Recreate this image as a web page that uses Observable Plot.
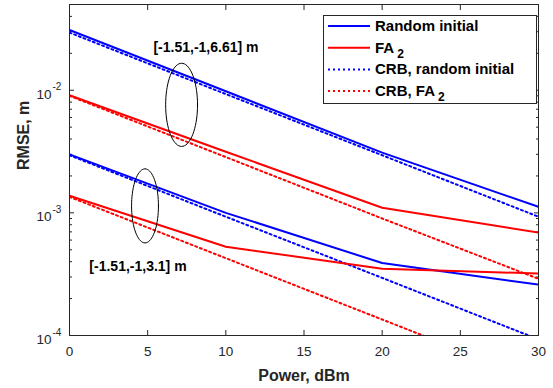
<!DOCTYPE html>
<html>
<head>
<meta charset="utf-8">
<script src="https://cdn.jsdelivr.net/npm/d3@7"></script>
<script src="https://cdn.jsdelivr.net/npm/@observablehq/plot@0.6"></script>
<style>
  html, body { margin: 0; padding: 0; background: white; }
  #wrap { position: relative; width: 553px; height: 388px; font-family: "Liberation Sans", Arial, sans-serif; }
</style>
</head>
<body>
<div id="wrap"></div>
<script>
// ---- data ----
const power = [0, 10, 20, 30];
const randInit661 = [0.031, 0.0098, 0.0031, 0.00112];
const fa2_661     = [0.0091, 0.00315, 0.0011, 0.00069];
const crbRand661  = [0.0295, 0.0093, 0.00295, 0.00093];
const crbFa2_661  = [0.0090, 0.00285, 0.0009, 0.00029];
const randInit31  = [0.003, 0.001, 0.00039, 0.00026];
const fa2_31      = [0.00138, 0.00053, 0.00035, 0.00032];
const crbRand31   = [0.00295, 0.00093, 0.000295, 0.000093];
const crbFa2_31   = [0.00135, 0.000427, 0.000135, 0.0000427];

const seriesNames = ["Random initial", "FA2", "CRB, random initial", "CRB, FA2"];
const xTicks = [0, 5, 10, 15, 20, 25, 30];
const yMajor = [1e-4, 1e-3, 1e-2];
const yExponents = ["-4", "-3", "-2"];
const annotTexts = ["[-1.51,-1,6.61] m", "[-1.51,-1,3.1] m"];
const annotX = [8.73, 4.38];
const annotY = [0.0224, 0.000362];
const ellipseCx = [7.17, 4.83];
const ellipseCy = [0.0076, 0.00114];
const ellipseRx = [1.02, 0.86];
const ellipseRyDecades = [0.339, 0.302];

// ---- build tables ----
const groups = [
  {name: seriesNames[0], id: "ri661", vals: randInit661},
  {name: seriesNames[1], id: "fa661", vals: fa2_661},
  {name: seriesNames[2], id: "cr661", vals: crbRand661},
  {name: seriesNames[3], id: "cf661", vals: crbFa2_661},
  {name: seriesNames[0], id: "ri31", vals: randInit31},
  {name: seriesNames[1], id: "fa31", vals: fa2_31},
  {name: seriesNames[2], id: "cr31", vals: crbRand31},
  {name: seriesNames[3], id: "cf31", vals: crbFa2_31}
];
const rows = groups.flatMap(g => power.map((p, i) => ({x: p, y: g.vals[i], series: g.name, id: g.id})));
const colorOf = s => s.includes("FA2") ? "#ff0000" : "#0000ff";
const solid = rows.filter(d => !d.series.startsWith("CRB"));
const dotted = rows.filter(d => d.series.startsWith("CRB"));

const minor = [];
for (const dec of [1e-4, 1e-3, 1e-2]) for (let k = 2; k <= 9; k++) { const v = k * dec; if (v <= 0.05) minor.push(v); }

const ellipsePts = [];
ellipseCx.forEach((cx, e) => {
  for (let i = 0; i <= 72; i++) {
    const t = i / 72 * 2 * Math.PI;
    ellipsePts.push({e, x: cx + ellipseRx[e] * Math.cos(t), y: Math.pow(10, Math.log10(ellipseCy[e]) + ellipseRyDecades[e] * Math.sin(t))});
  }
});
const annots = annotTexts.map((t, i) => ({t, x: annotX[i], y: annotY[i]}));

const axisColor = "#262626";
const dash = "2,3";
const chart = Plot.plot({
  width: 553, height: 388,
  marginLeft: 69, marginRight: 15, marginTop: 4, marginBottom: 53,
  x: {domain: [0, 30]},
  y: {type: "log", domain: [1e-4, 0.05]},
  style: {fontFamily: "Liberation Sans, Arial, sans-serif", fontSize: "13px", color: axisColor, background: "white", overflow: "visible"},
  marks: [
    Plot.axisX({ticks: xTicks, tickSize: -5, tickFormat: () => "", label: null, stroke: axisColor}),
    Plot.axisX({anchor: "top", ticks: xTicks, tickSize: -5, tickFormat: () => "", label: null, stroke: axisColor}),
    Plot.axisX({ticks: xTicks, tickSize: 0, tickPadding: 11, tickFormat: d => String(d), label: null, fontSize: 13.5, fill: axisColor}),
    Plot.axisY({ticks: yMajor, tickSize: -5, tickFormat: () => "", label: null, stroke: axisColor}),
    Plot.axisY({anchor: "right", ticks: yMajor, tickSize: -5, tickFormat: () => "", label: null, stroke: axisColor}),
    Plot.axisY({ticks: minor, tickSize: -3, tickFormat: () => "", label: null, stroke: axisColor}),
    Plot.axisY({anchor: "right", ticks: minor, tickSize: -3, tickFormat: () => "", label: null, stroke: axisColor}),
    Plot.text(yMajor, {y: d => d, frameAnchor: "left", text: () => "10", textAnchor: "end", dx: -18, dy: 4, fontSize: 13.5, fill: axisColor}),
    Plot.text(yMajor, {y: d => d, frameAnchor: "left", text: (d, i) => yExponents[i], textAnchor: "start", dx: -17, dy: -3, fontSize: 10, fill: axisColor}),
    Plot.text(["RMSE, m"], {frameAnchor: "left", dx: -46, rotate: -90, fontWeight: "bold", fontSize: 16, fill: axisColor}),
    Plot.text(["Power, dBm"], {frameAnchor: "bottom", dy: 45, fontWeight: "bold", fontSize: 16, fill: axisColor}),
    Plot.line(dotted, {x: "x", y: "y", z: "id", stroke: d => colorOf(d.series), strokeWidth: 2, strokeDasharray: dash, clip: true}),
    Plot.line(solid, {x: "x", y: "y", z: "id", stroke: d => colorOf(d.series), strokeWidth: 2, clip: true}),
    Plot.line(ellipsePts, {x: "x", y: "y", z: "e", stroke: "black", strokeWidth: 1, curve: "linear"}),
    Plot.text(annots, {x: "x", y: "y", text: "t", fontWeight: "bold", fontSize: 14, fill: "black"}),
    Plot.frame({stroke: axisColor, strokeWidth: 1})
  ]
});
const wrap = document.getElementById("wrap");
wrap.appendChild(chart);

// legend
const legRows = [
  {label: "Random initial", color: "#0000ff", dash: null, sub: false},
  {label: "FA", color: "#ff0000", dash: null, sub: true},
  {label: "CRB, random initial", color: "#0000ff", dash: dash, sub: false},
  {label: "CRB, FA", color: "#ff0000", dash: dash, sub: true}
];
const legW = 213, legH = 88;
const ns = "http://www.w3.org/2000/svg";
const lsvg = document.createElementNS(ns, "svg");
lsvg.setAttribute("width", legW + 1); lsvg.setAttribute("height", legH + 1);
lsvg.style.position = "absolute"; lsvg.style.left = "323px"; lsvg.style.top = "15px";
const rect = document.createElementNS(ns, "rect");
rect.setAttribute("x", 0.5); rect.setAttribute("y", 0.5); rect.setAttribute("width", legW); rect.setAttribute("height", legH);
rect.setAttribute("fill", "white"); rect.setAttribute("stroke", axisColor);
lsvg.appendChild(rect);
legRows.forEach((r, i) => {
  const cy = 11 + i * 21.7;
  const ln = document.createElementNS(ns, "line");
  ln.setAttribute("x1", 5); ln.setAttribute("x2", 47); ln.setAttribute("y1", cy); ln.setAttribute("y2", cy);
  ln.setAttribute("stroke", r.color); ln.setAttribute("stroke-width", 2);
  if (r.dash) ln.setAttribute("stroke-dasharray", r.dash);
  lsvg.appendChild(ln);
  const tx = document.createElementNS(ns, "text");
  tx.setAttribute("x", 52); tx.setAttribute("y", cy + 5);
  tx.setAttribute("font-family", "Liberation Sans, Arial, sans-serif");
  tx.setAttribute("font-weight", "bold"); tx.setAttribute("font-size", "15");
  tx.setAttribute("fill", "black");
  tx.textContent = r.label;
  if (r.sub) {
    const ts = document.createElementNS(ns, "tspan");
    ts.setAttribute("dx", 3); ts.setAttribute("dy", 5); ts.setAttribute("font-size", "12");
    ts.textContent = "2";
    tx.appendChild(ts);
  }
  lsvg.appendChild(tx);
});
wrap.appendChild(lsvg);
</script>
</body>
</html>
